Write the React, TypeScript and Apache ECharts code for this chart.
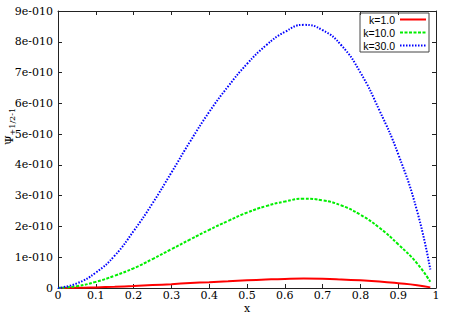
import React, { useEffect, useRef } from "react";
import * as echarts from "echarts";

const xValues = [0, 0.05, 0.1, 0.15, 0.2, 0.25, 0.3, 0.35, 0.4, 0.45, 0.5, 0.55, 0.6, 0.65, 0.7, 0.75, 0.8, 0.85, 0.9, 0.95, 0.985];
// values in units of 1e-10
const k1 = [0, 0.005, 0.02, 0.04, 0.065, 0.095, 0.125, 0.16, 0.19, 0.22, 0.25, 0.275, 0.295, 0.305, 0.3, 0.28, 0.25, 0.21, 0.155, 0.09, 0.02];
const k10 = [0, 0.06, 0.2, 0.4, 0.64, 0.94, 1.26, 1.58, 1.89, 2.18, 2.45, 2.66, 2.81, 2.9, 2.85, 2.68, 2.38, 1.96, 1.42, 0.8, 0.2];
const k30 = [0, 0.15, 0.5, 1.05, 1.85, 2.75, 3.75, 4.77, 5.72, 6.55, 7.28, 7.88, 8.32, 8.55, 8.38, 7.88, 7.0, 5.78, 4.35, 2.5, 0.6];
const seriesNames = ["k=1.0", "k=10.0", "k=30.0"];
const yMax = 9e-10;
const yStep = 1e-10;

const pairs = (vals: number[]) => xValues.map((x, i) => [x, vals[i] * 1e-10]);

export default function App() {
  const ref = useRef<HTMLDivElement>(null);
  useEffect(() => {
    if (!ref.current) return;
    const chart = echarts.init(ref.current, null, { renderer: "svg" });
    const axisColor = "#222";
    const serif = "DejaVu Serif";
    const sans = "Liberation Sans";
    const tickLabel = { fontFamily: serif, fontSize: 11, color: "#000" };
    chart.setOption({
      animation: false,
      backgroundColor: "#fff",
      textStyle: { fontFamily: serif },
      grid: { left: 58, right: 16, top: 11, bottom: 28, outerBoundsMode: "none", containLabel: false },
      legend: {
        right: 23,
        top: 13,
        orient: "vertical",
        align: "right",
        itemWidth: 26,
        itemHeight: 6,
        itemGap: 2,
        padding: [1, 2, 1, 2],
        borderColor: "#444",
        borderWidth: 1,
        borderRadius: 0,
        itemStyle: { opacity: 0 },
        textStyle: { fontFamily: sans, fontSize: 10.5, color: "#000", lineHeight: 8, width: 33, align: "right" },
        data: seriesNames,
      },
      xAxis: [
        {
          type: "value",
          min: 0,
          max: 1,
          interval: 0.1,
          name: "x",
          nameLocation: "middle",
          nameGap: 15,
          nameMoveOverlap: false,
          nameTextStyle: { ...tickLabel },
          axisLine: { show: true, onZero: false, lineStyle: { color: axisColor, width: 1 } },
          axisTick: { show: true, inside: true, length: 4, lineStyle: { color: axisColor } },
          axisLabel: { ...tickLabel, margin: 2 },
          splitLine: { show: false },
        },
        {
          type: "value",
          position: "top",
          min: 0,
          max: 1,
          interval: 0.1,
          axisLine: { show: true, onZero: false, lineStyle: { color: axisColor, width: 1 } },
          axisTick: { show: true, inside: true, length: 4, lineStyle: { color: axisColor } },
          axisLabel: { show: false },
          splitLine: { show: false },
        },
      ],
      yAxis: [
        {
          type: "value",
          min: 0,
          max: yMax,
          interval: yStep,
          name: "{a|Ψ}{b|+1/2-1}",
          nameLocation: "middle",
          nameGap: 42,
          nameMoveOverlap: false,
          nameRotate: 90,
          nameTextStyle: {
            padding: [0, 0, 0, 46],
            rich: {
              a: { fontFamily: serif, fontSize: 11, color: "#000", lineHeight: 12, verticalAlign: "top" },
              b: { fontFamily: serif, fontSize: 8, color: "#000", lineHeight: 9, verticalAlign: "bottom" },
            },
          },
          axisLine: { show: true, onZero: false, lineStyle: { color: axisColor, width: 1 } },
          axisTick: { show: true, inside: true, length: 4, lineStyle: { color: axisColor } },
          axisLabel: {
            ...tickLabel,
            margin: 5,
            formatter: (v: number) => (v === 0 ? "0" : `${Math.round(v / yStep)}e-010`),
          },
          splitLine: { show: false },
        },
        {
          type: "value",
          position: "right",
          min: 0,
          max: yMax,
          interval: yStep,
          axisLine: { show: true, onZero: false, lineStyle: { color: axisColor, width: 1 } },
          axisTick: { show: true, inside: true, length: 4, lineStyle: { color: axisColor } },
          axisLabel: { show: false },
          splitLine: { show: false },
        },
      ],
      series: [
        {
          name: seriesNames[0],
          type: "line",
          smooth: true,
          showSymbol: false,
          symbol: "none",
          data: pairs(k1),
          lineStyle: { color: "#ff0000", width: 2, type: "solid" },
          itemStyle: { color: "#ff0000" },
        },
        {
          name: seriesNames[1],
          type: "line",
          smooth: true,
          showSymbol: false,
          symbol: "none",
          data: pairs(k10),
          lineStyle: { color: "#00ee00", width: 2, type: [3, 1.5] },
          itemStyle: { color: "#00ee00" },
        },
        {
          name: seriesNames[2],
          type: "line",
          smooth: true,
          showSymbol: false,
          symbol: "none",
          data: pairs(k30),
          lineStyle: { color: "#0000ff", width: 2, type: [1.5, 1.5] },
          itemStyle: { color: "#0000ff" },
        },
      ],
    });
    return () => chart.dispose();
  }, []);
  return <div ref={ref} style={{ position: "fixed", left: 0, top: 0, width: 452, height: 316 }} />;
}
